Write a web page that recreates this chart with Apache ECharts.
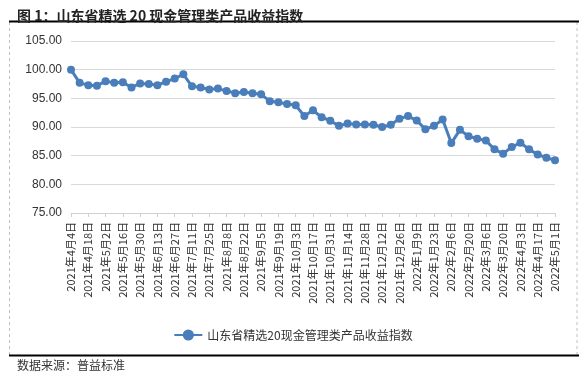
<!DOCTYPE html>
<html>
<head>
<meta charset="utf-8">
<script src="https://cdn.jsdelivr.net/npm/echarts@6/dist/echarts.min.js"></script>
<style>
html,body{margin:0;padding:0;background:#fff;}
#c{width:586px;height:379px;}
</style>
</head>
<body>
<div id="c"></div>
<script>
var titleText = '图 1：山东省精选 20 现金管理类产品收益指数';
var sourceText = '数据来源：普益标准';
var seriesName = '山东省精选20现金管理类产品收益指数';
var categories = [
'2021年4月4日','2021年4月11日','2021年4月18日','2021年4月25日','2021年5月2日','2021年5月9日','2021年5月16日','2021年5月23日','2021年5月30日','2021年6月6日',
'2021年6月13日','2021年6月20日','2021年6月27日','2021年7月4日','2021年7月11日','2021年7月18日','2021年7月25日','2021年8月1日','2021年8月8日','2021年8月15日',
'2021年8月22日','2021年8月29日','2021年9月5日','2021年9月12日','2021年9月19日','2021年9月26日','2021年10月3日','2021年10月10日','2021年10月17日','2021年10月24日',
'2021年10月31日','2021年11月7日','2021年11月14日','2021年11月21日','2021年11月28日','2021年12月5日','2021年12月12日','2021年12月19日','2021年12月26日','2022年1月2日',
'2022年1月9日','2022年1月16日','2022年1月23日','2022年1月30日','2022年2月6日','2022年2月13日','2022年2月20日','2022年2月27日','2022年3月6日','2022年3月13日',
'2022年3月20日','2022年3月27日','2022年4月3日','2022年4月10日','2022年4月17日','2022年4月24日','2022年5月1日'
];
var values = [
100.0, 97.7, 97.3, 97.2, 98.0, 97.7, 97.8, 96.9, 97.6, 97.5,
97.3, 97.9, 98.45, 99.2, 97.1, 96.9, 96.55, 96.7, 96.3, 95.9,
96.1, 95.9, 95.7, 94.5, 94.3, 94.0, 93.8, 91.9, 92.9, 91.7,
91.1, 90.2, 90.6, 90.45, 90.45, 90.4, 90.0, 90.4, 91.45, 91.9,
91.15, 89.6, 90.2, 91.3, 87.2, 89.5, 88.4, 87.95, 87.65, 86.1,
85.35, 86.5, 87.25, 86.1, 85.2, 84.65, 84.2
];
var yMin = 75, yMax = 105, yStep = 5;

var chart = echarts.init(document.getElementById('c'), null, {renderer:'canvas'});
var blue = '#4a7ebb';
chart.setOption({
  animation: false,
  backgroundColor: '#ffffff',
  title: {
    text: titleText, left: 12, top: 4,
    textStyle: {fontFamily: '"Noto Sans CJK SC"', fontSize: 14, fontWeight: 'bold', color: '#222'}
  },
  graphic: [
    {type:'line', shape:{x1:9.5,y1:22,x2:9.5,y2:355}, style:{stroke:'#bfbfbf', lineWidth:1, lineDash:[3,3]}},
    {type:'line', shape:{x1:577,y1:22,x2:577,y2:355}, style:{stroke:'#bfbfbf', lineWidth:1, lineDash:[3,3]}},
    {type:'line', shape:{x1:9,y1:21.5,x2:579,y2:21.5}, style:{stroke:'#000', lineWidth:2}},
    {type:'line', shape:{x1:9,y1:355.5,x2:579,y2:355.5}, style:{stroke:'#000', lineWidth:2}},
    {type:'text', left:17, top:359, style:{text: sourceText, fontFamily:'"Noto Sans CJK SC"', fontSize:12, fill:'#333'}}
  ],
  legend: {
    data: [seriesName], left: 'center', top: 324,
    itemWidth: 28, itemHeight: 14, itemGap: 5,
    textStyle: {fontFamily:'"Noto Sans CJK SC"', fontSize: 12, color: '#333'}
  },
  grid: {left: 71, right: 31, top: 41, bottom: 166, containLabel: false},
  xAxis: {
    type: 'category', data: categories, boundaryGap: false,
    axisLine: {lineStyle: {color: '#d0d0d0', width: 1}},
    axisTick: {show: true, interval: 1, length: 4, lineStyle: {color: '#d0d0d0'}},
    axisLabel: {interval: 1, rotate: 90, margin: 9, fontSize: 11, color: '#333',
      fontFamily: '"Noto Sans CJK SC"'},
    splitLine: {show: false}
  },
  yAxis: {
    type: 'value', min: yMin, max: yMax, interval: yStep,
    axisLine: {show: false}, axisTick: {show: false},
    axisLabel: {margin: 9, fontSize: 12, color: '#333', fontFamily: '"Liberation Sans", Arial',
      formatter: function(v){ return v.toFixed(2); }},
    splitLine: {lineStyle: {color: '#d9d9d9', width: 1}}
  },
  series: [{
    name: seriesName, type: 'line', data: values,
    symbol: 'circle', symbolSize: 8, showAllSymbol: true,
    lineStyle: {color: blue, width: 3},
    itemStyle: {color: blue}
  }]
});
</script>
</body>
</html>
